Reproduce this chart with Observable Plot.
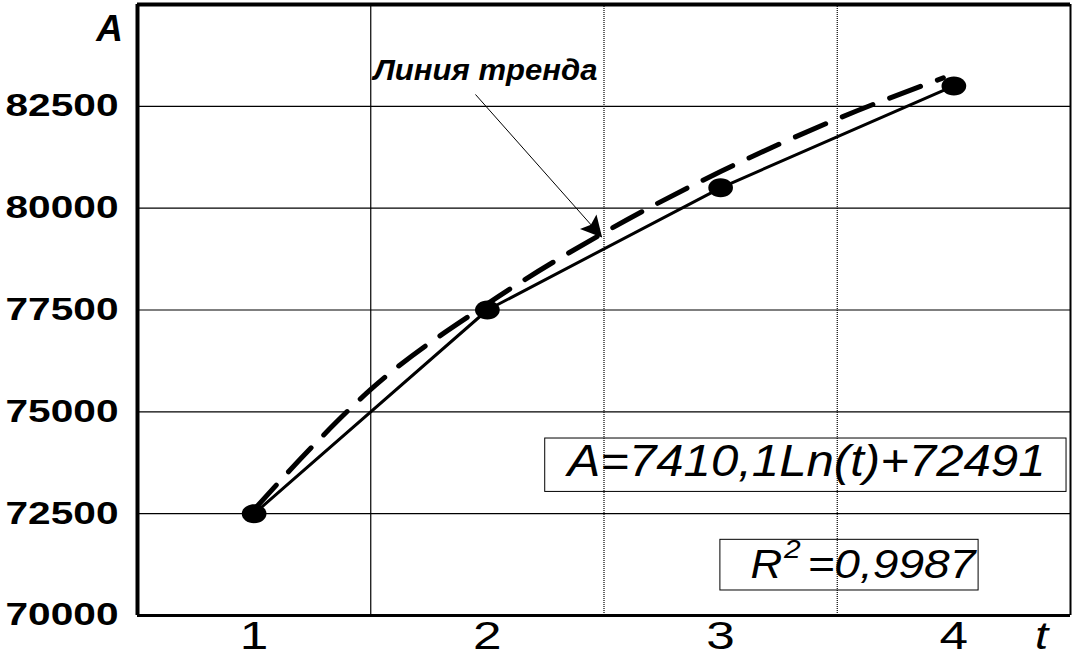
<!DOCTYPE html>
<html><head><meta charset="utf-8">
<script src="https://cdn.jsdelivr.net/npm/d3@7"></script>
<script src="https://cdn.jsdelivr.net/npm/@observablehq/plot@0.6"></script>
<style>
body{margin:0;background:#fff;}
#chart svg{font-family:"Liberation Sans",Arial,sans-serif;}
</style>
</head><body><div id="chart"></div>
<script>
// ---- data ----
const periods = [1, 2, 3, 4];
const values = [72500, 77500, 80500, 83000];
const trendT = [1, 1.25, 1.5, 2, 2.5, 3, 3.5, 3.955];
const trendA = [72600, 74150, 75550, 77650, 79400, 80900, 82190, 83200];
const yTicks = [70000, 72500, 75000, 77500, 80000, 82500];
const xTicks = [1, 2, 3, 4];
const gridSolidX = [1.5];
const gridDottedX = [2.5, 3.5];
const yAxisTitle = "A";
const xAxisTitle = "t";
const trendLabel = "Линия тренда";
const equationText = "A=7410,1Ln(t)+72491";
const r2Parts = ["R", "2", "=0,9987"];

const points = periods.map((t, i) => ({t, a: values[i]}));
const trend = trendT.map((t, i) => ({t, a: trendA[i]}));

const ellipse = {draw(ctx, size) {
  const r = Math.sqrt(size / Math.PI), rx = r * 1.3, ry = r, k = 0.5523;
  ctx.moveTo(rx, 0);
  ctx.bezierCurveTo(rx, ry * k, rx * k, ry, 0, ry);
  ctx.bezierCurveTo(-rx * k, ry, -rx, ry * k, -rx, 0);
  ctx.bezierCurveTo(-rx, -ry * k, -rx * k, -ry, 0, -ry);
  ctx.bezierCurveTo(rx * k, -ry, rx, -ry * k, rx, 0);
  ctx.closePath();
}};
const arrowHead = {draw(ctx) {
  ctx.moveTo(0, 0); ctx.lineTo(-11, 21); ctx.lineTo(0, 17); ctx.lineTo(11, 21); ctx.closePath();
}};

const plot = Plot.plot({
  width: 1075, height: 657,
  marginLeft: 137, marginRight: 5, marginTop: 4, marginBottom: 42,
  style: {background: "white", color: "black", fontFamily: "Liberation Sans, Arial, sans-serif", overflow: "visible"},
  x: {domain: [0.5, 4.5]},
  y: {domain: [70000, 85000]},
  marks: [
    Plot.ruleY(yTicks.slice(1), {stroke: "black", strokeWidth: 1.2}),
    Plot.ruleX(gridSolidX, {stroke: "black", strokeWidth: 1.2}),
    Plot.ruleX(gridDottedX, {stroke: "black", strokeWidth: 1.2, strokeDasharray: "1,1"}),
    Plot.ruleX([0.5], {stroke: "black", strokeWidth: 4}),
    Plot.ruleX([4.5], {stroke: "black", strokeWidth: 2}),
    Plot.ruleY([85000], {stroke: "black", strokeWidth: 4}),
    Plot.ruleY([70000], {stroke: "black", strokeWidth: 3}),
    Plot.axisY({ticks: yTicks, tickSize: 0, tickPadding: 19, fontSize: 31, fontWeight: "bold", tickFormat: d => String(d), label: null}),
    Plot.axisX({ticks: xTicks, tickSize: 0, tickPadding: 7, fontSize: 38, tickFormat: d => String(d), label: null}),
    Plot.rect([0], {x1: [2.248], x2: [4.483], y1: [73034], y2: [74345], fill: "none", stroke: "black", strokeWidth: 1}),
    Plot.rect([0], {x1: [2.999], x2: [4.106], y1: [70614], y2: [71858], fill: "none", stroke: "black", strokeWidth: 1}),
    Plot.line(points, {x: "t", y: "a", stroke: "black", strokeWidth: 3}),
    Plot.line(trend, {x: "t", y: "a", stroke: "black", strokeWidth: 5, strokeDasharray: "33,18", curve: "monotone-x"}),
    Plot.dot(points, {x: "t", y: "a", r: 9.5, symbol: ellipse, fill: "black", stroke: "none"}),
    Plot.link([0], {x1: [1.949], y1: [82791], x2: [2.489], y2: [79304], stroke: "black", strokeWidth: 1}),
    Plot.dot([0], {x: [2.492], y: [79280], symbol: arrowHead, rotate: 138.5, fill: "black", stroke: "none"}),
    Plot.text([yAxisTitle], {x: [0.38], y: [84399], text: d => d, fontSize: 37, fontWeight: "bold", fontStyle: "italic"}),
    Plot.text([xAxisTitle], {x: [4.376], y: [69465], text: d => d, fontSize: 38, fontStyle: "italic"}),
    Plot.text([trendLabel], {x: [1.992], y: [83372], text: d => d, fontSize: 29, fontWeight: "bold", fontStyle: "italic"}),
    Plot.text([equationText], {x: [3.368], y: [73781], text: d => d, fontSize: 45, fontStyle: "italic"}),
    Plot.text([r2Parts[0]], {x: [3.128], y: [71247], text: d => d, fontSize: 40, fontStyle: "italic", textAnchor: "start"}),
    Plot.text([r2Parts[1]], {x: [3.272], y: [71613], text: d => d, fontSize: 25, fontStyle: "italic", textAnchor: "start"}),
    Plot.text([r2Parts[2]], {x: [3.372], y: [71247], text: d => d, fontSize: 40, fontStyle: "italic", textAnchor: "start"})
  ]
});
document.getElementById("chart").append(plot);

function fitEl(el, f) {
  const w = el.getComputedTextLength();
  const target = typeof f === "function" ? f(w) : w * f;
  el.setAttribute("textLength", target);
  el.setAttribute("lengthAdjust", "spacingAndGlyphs");
}
d3.select(plot).selectAll('g[aria-label="y-axis tick label"] text').each(function() { fitEl(this, () => 113); });
d3.select(plot).selectAll('g[aria-label="x-axis tick label"] text').each(function() { fitEl(this, 1.35); });
const targets = new Map([
  [xAxisTitle, 1.25],
  [trendLabel, () => 224],
  [equationText, () => 478],
  [r2Parts[0], 1.1],
  [r2Parts[1], 1.2],
  [r2Parts[2], () => 168]
]);
d3.select(plot).selectAll('g[aria-label="text"] text').each(function() {
  const f = targets.get(this.textContent);
  if (f !== undefined) fitEl(this, f);
});
</script>
</body></html>
